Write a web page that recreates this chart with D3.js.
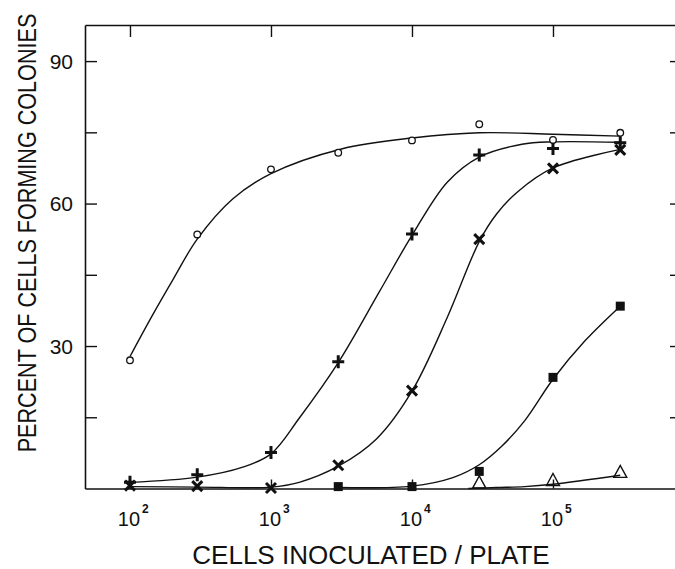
<!DOCTYPE html>
<html>
<head>
<meta charset="utf-8">
<script src="https://cdn.jsdelivr.net/npm/d3@7"></script>
<style>
  body { margin: 0; background: #fff; }
  text { font-family: "Liberation Sans", Arial, sans-serif; fill: #111; }
</style>
</head>
<body>
<div id="chart"></div>
<script>
// measured points (cells inoculated per plate, % forming colonies)
const cellsInoculated = [1e2, 3e2, 1e3, 3e3, 1e4, 3e4, 1e5, 3e5];
const circleVals = [27, 53.5, 67.2, 70.7, 73.3, 76.7, 73.4, 74.9];
const plusVals = [1.3, 2.9, 7.6, 26.7, 53.6, 70.2, 71.6, 72.8];
const crossVals = [0.6, 0.5, 0.1, 4.9, 20.6, 52.5, 67.4, 71.3];
const squareCells = [3e3, 1e4, 3e4, 1e5, 3e5];
const squareVals = [0.4, 0.4, 3.6, 23.4, 38.4];
const triangleCells = [3e4, 1e5, 3e5];
const triangleVals = [1.4, 1.9, 3.6];

// hand drawn fitted curves (log10 cells, %)
const circleFitLog = [2, 2.15, 2.305, 2.477, 2.73, 3, 3.5, 4, 4.477, 5, 5.477];
const circleFitVals = [27.8, 36, 44, 52.5, 61, 66.3, 71.5, 73.8, 74.9, 74.6, 74.2];
const plusFitLog = [2, 2.477, 2.8, 3, 3.2, 3.477, 3.77, 4, 4.25, 4.477, 4.78, 5, 5.477];
const plusFitVals = [1.3, 2.4, 4.5, 7.3, 14.8, 26.5, 41.5, 53.3, 64.5, 69.8, 72.5, 73, 72.9];
const crossFitLog = [2, 2.477, 3, 3.2, 3.477, 3.75, 4, 4.25, 4.477, 4.6, 4.75, 5, 5.477];
const crossFitVals = [0.4, 0.3, 0.3, 1.3, 4.7, 10.5, 20.5, 36, 52, 57.8, 62.5, 67.5, 71.4];
const squareFitLog = [3.477, 4, 4.29, 4.477, 4.64, 4.8, 5, 5.23, 5.477];
const squareFitVals = [0.2, 0.5, 2.3, 5, 9, 14.3, 23, 31.2, 38.4];
const triangleFitLog = [4.4, 4.6, 4.8, 5, 5.477];
const triangleFitVals = [0, 0.2, 0.4, 0.9, 2.8];

const decades = [1e2, 1e3, 1e4, 1e5];
const yTicks = [15, 30, 45, 60, 75, 90];
const yLabels = [30, 60, 90];

const width = 675;
const height = 569;
const margin = { top: 25, right: -7, bottom: 80.5, left: 85 };

const x_scale = d3
  .scaleLog()
  .domain([10 ** 1.681, 10 ** 5.915])
  .range([margin.left, width - margin.right]);
const y_scale = d3
  .scaleLinear()
  .domain([0, 97.6])
  .range([height - margin.bottom, margin.top]);

const svg = d3
  .select('#chart')
  .append('svg')
  .attr('width', width)
  .attr('height', height)
  .attr('viewBox', [0, 0, width, height]);

// frame + ticks (all ticks point inward)
const axisStyle = (g) => {
  g.selectAll('path.domain').attr('stroke', '#111').attr('stroke-width', 1.6);
  g.selectAll('.tick line').attr('stroke', '#111').attr('stroke-width', 1.4);
  g.selectAll('.tick text').remove();
};

svg
  .append('g')
  .attr('transform', `translate(0, ${y_scale(0)})`)
  .call(d3.axisBottom(x_scale).tickValues(decades).tickSize(-9).tickSizeOuter(0).tickFormat(''))
  .call(axisStyle);
svg
  .append('g')
  .attr('transform', `translate(0, ${margin.top})`)
  .call(d3.axisTop(x_scale).tickValues(decades).tickSize(-12).tickSizeOuter(0).tickFormat(''))
  .call(axisStyle);
svg
  .append('g')
  .attr('transform', `translate(${margin.left}, 0)`)
  .call(d3.axisLeft(y_scale).tickValues(yTicks).tickSize(-12).tickSizeOuter(0).tickFormat(''))
  .call(axisStyle);
svg
  .append('g')
  .attr('transform', `translate(${width - margin.right}, 0)`)
  .call(d3.axisRight(y_scale).tickValues(yTicks).tickSize(-12).tickSizeOuter(0).tickFormat(''))
  .call(axisStyle);

// y tick labels
svg
  .selectAll('.ylab')
  .data(yLabels)
  .enter()
  .append('text')
  .attr('class', 'ylab')
  .attr('x', 73)
  .attr('y', (d) => y_scale(d) + 7.5)
  .attr('text-anchor', 'end')
  .attr('font-size', 21)
  .text((d) => d);

// x tick labels 10^n
const xlab = svg
  .selectAll('.xlab')
  .data(decades)
  .enter()
  .append('g')
  .attr('class', 'xlab')
  .attr('transform', (d) => `translate(${x_scale(d)}, 526)`);
xlab
  .append('text')
  .attr('x', -1)
  .attr('text-anchor', 'middle')
  .attr('font-size', 20)
  .text('10');
xlab
  .append('text')
  .attr('x', 12)
  .attr('y', -13)
  .attr('font-size', 12)
  .attr('font-weight', 'bold')
  .text((d) => Math.round(Math.log10(d)));

// axis titles
svg
  .append('text')
  .attr('x', 371)
  .attr('y', 564)
  .attr('text-anchor', 'middle')
  .attr('font-size', 26)
  .text('CELLS INOCULATED / PLATE');
svg
  .append('text')
  .attr('transform', 'translate(36, 233) rotate(-90) scale(1, 1.16)')
  .attr('text-anchor', 'middle')
  .attr('font-size', 21.6)
  .text('PERCENT OF CELLS FORMING COLONIES');

// fitted curves
const line = d3
  .line()
  .x((d) => x_scale(10 ** d[0]))
  .y((d) => y_scale(d[1]))
  .curve(d3.curveCatmullRom.alpha(0.5));

const fits = [
  [circleFitLog, circleFitVals],
  [plusFitLog, plusFitVals],
  [crossFitLog, crossFitVals],
  [squareFitLog, squareFitVals],
  [triangleFitLog, triangleFitVals],
];
fits.forEach(([xs, ys]) => {
  svg
    .append('path')
    .datum(xs.map((v, i) => [v, ys[i]]))
    .attr('d', line)
    .attr('fill', 'none')
    .attr('stroke', '#111')
    .attr('stroke-width', 1.4);
});

// markers
const pts = (xs, ys) => xs.map((v, i) => ({ x: x_scale(v), y: y_scale(ys[i]) }));

svg
  .selectAll('.sq')
  .data(pts(squareCells, squareVals))
  .enter()
  .append('rect')
  .attr('x', (d) => d.x - 4.5)
  .attr('y', (d) => d.y - 4.5)
  .attr('width', 9)
  .attr('height', 9)
  .attr('fill', '#111');

svg
  .selectAll('.tri')
  .data(pts(triangleCells, triangleVals))
  .enter()
  .append('path')
  .attr('d', (d) => `M${d.x - 6.5},${d.y + 6}L${d.x},${d.y - 6}L${d.x + 6.5},${d.y + 6}Z`)
  .attr('fill', 'none')
  .attr('stroke', '#111')
  .attr('stroke-width', 1.4);

svg
  .selectAll('.cross')
  .data(pts(cellsInoculated, crossVals))
  .enter()
  .append('path')
  .attr('d', (d) => `M${d.x - 5},${d.y - 5}L${d.x + 5},${d.y + 5}M${d.x + 5},${d.y - 5}L${d.x - 5},${d.y + 5}`)
  .attr('stroke', '#111')
  .attr('stroke-width', 3);

svg
  .selectAll('.plus')
  .data(pts(cellsInoculated, plusVals))
  .enter()
  .append('path')
  .attr('d', (d) => `M${d.x - 6},${d.y}L${d.x + 6},${d.y}M${d.x},${d.y - 6.5}L${d.x},${d.y + 6.5}`)
  .attr('stroke', '#111')
  .attr('stroke-width', 3);

svg
  .selectAll('.circ')
  .data(pts(cellsInoculated, circleVals))
  .enter()
  .append('circle')
  .attr('cx', (d) => d.x)
  .attr('cy', (d) => d.y)
  .attr('r', 3.3)
  .attr('fill', '#fff')
  .attr('stroke', '#111')
  .attr('stroke-width', 1.3);
</script>
</body>
</html>
